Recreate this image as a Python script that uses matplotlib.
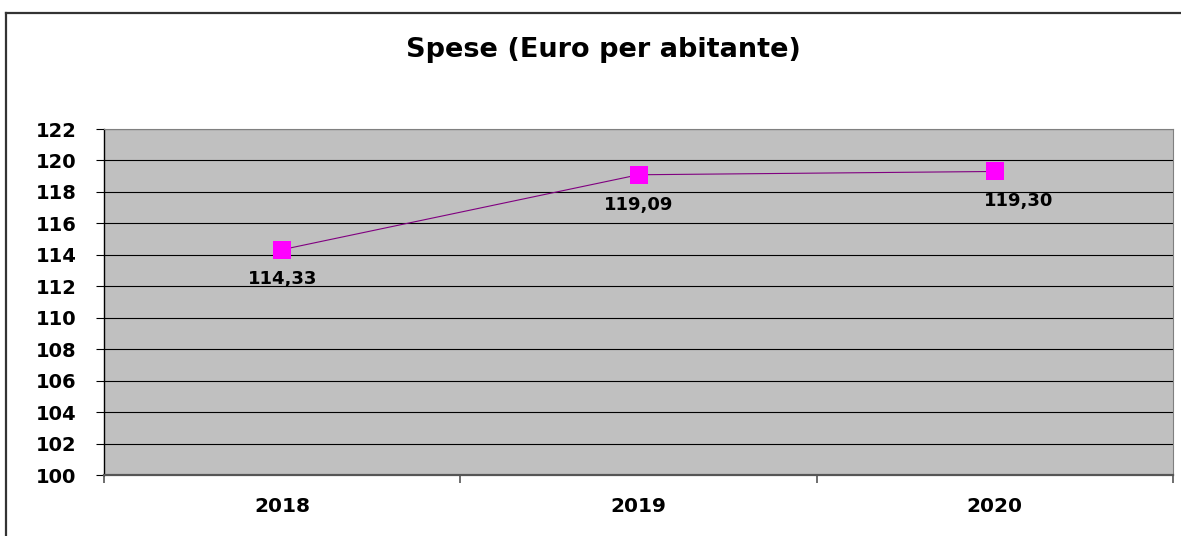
import matplotlib.pyplot as plt
from matplotlib.lines import Line2D

# Data
years = ['2018', '2019', '2020']
spese = [114.33, 119.09, 119.30]
labels = ['114,33', '119,09', '119,30']

# label offsets (points) relative to each marker
label_offsets = [(0, -21), (0, -22), (17, -21)]

plt.rcParams['font.family'] = ['DejaVu Sans']

fig = plt.figure(figsize=(11.81, 5.36), dpi=100)
ax = fig.add_axes([104 / 1181, 61 / 536, 1069 / 1181, 346 / 536])

# Frame of the chart (only top and left visible in reference)
fig.add_artist(Line2D([6 / 1181, 1.0], [1 - 13 / 536, 1 - 13 / 536],
                      transform=fig.transFigure, color='#333333', lw=1.6))
fig.add_artist(Line2D([6 / 1181, 6 / 1181], [0, 1 - 13 / 536],
                      transform=fig.transFigure, color='#333333', lw=1.6))

ax.set_facecolor('#C0C0C0')
x = list(range(len(years)))
ax.plot(x, spese, color='#800080', lw=0.8, marker='s', markersize=13,
        markerfacecolor='#FF00FF', markeredgewidth=0, zorder=3)

for xi, yi, lab, off in zip(x, spese, labels, label_offsets):
    ax.annotate(lab, (xi, yi), xytext=off, textcoords='offset points',
                ha='center', va='center', fontsize=13, fontweight='bold')

ax.set_xlim(-0.5, 2.5)
ax.set_ylim(100, 122)
ax.set_yticks(range(100, 123, 2))
ax.set_xticks(x)
ax.set_xticklabels(years)
ax.set_xticks([-0.5, 0.5, 1.5, 2.5], minor=True)

ax.yaxis.grid(True, color='black', lw=0.8)
ax.set_axisbelow(True)

ax.tick_params(axis='y', length=6, width=0.8, pad=14, labelsize=14)
ax.tick_params(axis='x', which='major', length=0, pad=16, labelsize=14.5)
ax.tick_params(axis='x', which='minor', length=6, width=1.2, color='#555555')
for lab in ax.get_xticklabels() + ax.get_yticklabels():
    lab.set_fontweight('bold')

ax.spines['left'].set_color('black')
ax.spines['left'].set_linewidth(1.0)
ax.spines['bottom'].set_color('#555555')
ax.spines['bottom'].set_linewidth(1.6)
ax.spines['top'].set_color('#808080')
ax.spines['right'].set_color('#808080')

fig.text(603 / 1181, 1 - 50 / 536, 'Spese (Euro per abitante)',
         ha='center', va='center', fontsize=19.5, fontweight='bold')

fig.savefig('out.png', dpi=100)
